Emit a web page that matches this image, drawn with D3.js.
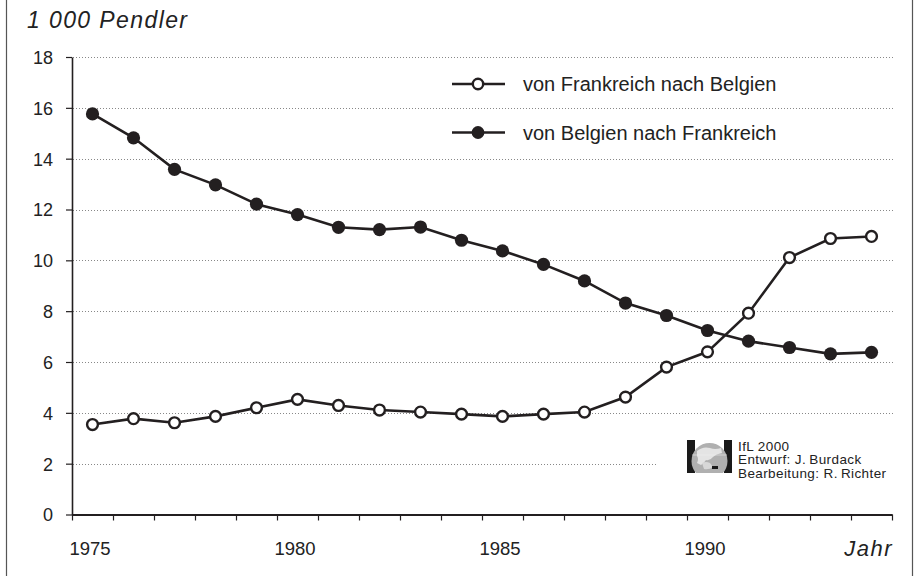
<!DOCTYPE html>
<html>
<head>
<meta charset="utf-8">
<script src="https://cdn.jsdelivr.net/npm/d3@7"></script>
<style>
  html, body { margin: 0; padding: 0; background: #fff; }
  svg { display: block; font-family: "Liberation Sans", Arial, Helvetica, sans-serif; }
</style>
</head>
<body>
<svg id="chart" width="917" height="576"></svg>
<script>
// ---- data ----
const years = [1975,1976,1977,1978,1979,1980,1981,1982,1983,1984,1985,1986,1987,1988,1989,1990,1991,1992,1993,1994];
const frToBe = [3.54,3.77,3.61,3.86,4.20,4.53,4.29,4.11,4.03,3.95,3.86,3.95,4.03,4.62,5.80,6.40,7.92,10.11,10.86,10.94];
const beToFr = [15.76,14.82,13.58,12.97,12.21,11.80,11.30,11.21,11.31,10.79,10.37,9.84,9.19,8.32,7.83,7.24,6.82,6.57,6.32,6.38];
const yTicks = [0,2,4,6,8,10,12,14,16,18];
const xLabels = [1975,1980,1985,1990];
const seriesNames = ["von Frankreich nach Belgien","von Belgien nach Frankreich"];
const yTitle = "1 000 Pendler";
const xTitle = "Jahr";
const credits = ["IfL 2000","Entwurf: J.\u2009Burdack","Bearbeitung: R.\u2009Richter"];

const ink = "#231f20";
const svg = d3.select("#chart");

const x = d3.scaleLinear().domain([years[0]-0.5, years[years.length-1]+0.5]).range([72, 892]);
const y = d3.scaleLinear().domain([0, 18]).range([514.5, 57]);

// frame (left/right rules)
svg.append("line").attr("x1",6.5).attr("x2",6.5).attr("y1",0).attr("y2",576).attr("stroke","#555").attr("stroke-width",1.2);
svg.append("line").attr("x1",912.5).attr("x2",912.5).attr("y1",0).attr("y2",576).attr("stroke","#555").attr("stroke-width",1.2);

// gridlines
svg.append("g").selectAll("line").data(yTicks.filter(d => d > 0)).join("line")
  .attr("x1", 73).attr("x2", d => d === 2 ? 657 : 893)
  .attr("y1", d => Math.round(y(d)) + 0.5).attr("y2", d => Math.round(y(d)) + 0.5)
  .attr("stroke", "#888").attr("stroke-width", 1).attr("stroke-dasharray", "1,2");

// y axis
const yAxis = svg.append("g").attr("transform","translate(72,0)")
  .call(d3.axisLeft(y).tickValues(yTicks).tickSize(6).tickSizeOuter(0).tickFormat(d3.format("d")));
yAxis.select(".domain").attr("stroke", ink).attr("stroke-width", 1.6);
yAxis.selectAll(".tick line").attr("stroke", ink).attr("stroke-width", 1.2);
yAxis.selectAll(".tick text").attr("font-size", 18).attr("fill", "#222")
  .attr("font-family","Liberation Sans, Arial, sans-serif").attr("x", -19).attr("dy","0.36em");

// x axis (ticks at year boundaries)
const bounds = years.map(d => d - 0.5).concat([years[years.length-1] + 0.5]);
const xAxis = svg.append("g").attr("transform", `translate(0,${y(0)})`)
  .call(d3.axisBottom(x).tickValues(bounds).tickSize(6).tickSizeOuter(0).tickFormat(""));
xAxis.select(".domain").attr("stroke", ink).attr("stroke-width", 2.2);
xAxis.selectAll(".tick line").attr("stroke", ink).attr("stroke-width", 1.2);

svg.append("g").selectAll("text").data(xLabels).join("text")
  .attr("x", d => x(d) - 2.5).attr("y", 555).attr("text-anchor","middle")
  .attr("font-size", 18.5).attr("fill", "#222").text(d => d);

svg.append("text").attr("x", 893).attr("y", 556).attr("text-anchor","end")
  .attr("font-size", 22).attr("font-style","italic").attr("letter-spacing", 1.5).attr("fill","#222").text(xTitle);

svg.append("text").attr("x", 27).attr("y", 28)
  .attr("font-size", 23).attr("font-style","italic").attr("letter-spacing", 1.4).attr("fill","#222").text(yTitle);

// lines
const line = d3.line().x((d,i) => x(years[i])).y(d => y(d));
svg.append("path").datum(beToFr).attr("d", line).attr("fill","none").attr("stroke", ink).attr("stroke-width", 2.6);
svg.append("path").datum(frToBe).attr("d", line).attr("fill","none").attr("stroke", ink).attr("stroke-width", 2.6);

svg.append("g").selectAll("circle").data(beToFr).join("circle")
  .attr("cx", (d,i) => x(years[i])).attr("cy", d => y(d)).attr("r", 6.6).attr("fill", ink);
svg.append("g").selectAll("circle").data(frToBe).join("circle")
  .attr("cx", (d,i) => x(years[i])).attr("cy", d => y(d)).attr("r", 5.4)
  .attr("fill", "#fff").attr("stroke", ink).attr("stroke-width", 2.4);

// legend
const legY = [84, 132.5];
const leg = svg.append("g");
seriesNames.forEach((name, i) => {
  leg.append("line").attr("x1", 452).attr("x2", 505).attr("y1", legY[i]).attr("y2", legY[i])
    .attr("stroke", ink).attr("stroke-width", 2.6);
  if (i === 0) {
    leg.append("circle").attr("cx", 478).attr("cy", legY[i]).attr("r", 5.2)
      .attr("fill","#fff").attr("stroke", ink).attr("stroke-width", 2.4);
  } else {
    leg.append("circle").attr("cx", 478).attr("cy", legY[i]).attr("r", 6.4).attr("fill", ink);
  }
  leg.append("text").attr("x", 523).attr("y", legY[i]).attr("dy", "0.36em")
    .attr("font-size", 20).attr("fill", "#222").text(name);
});

// logo
const logo = svg.append("g");
const defs = svg.append("defs");
defs.append("clipPath").attr("id","globeclip").append("rect").attr("x",690).attr("y",438).attr("width",39).attr("height",35);
logo.append("rect").attr("x",687).attr("y",440).attr("width",8).attr("height",33).attr("fill","#1a1a1a");
logo.append("rect").attr("x",724).attr("y",440).attr("width",8).attr("height",33).attr("fill","#1a1a1a");
const globe = logo.append("g").attr("clip-path","url(#globeclip)");
globe.append("circle").attr("cx",709.5).attr("cy",461).attr("r",18).attr("fill","#b0b0b0");
globe.append("path").attr("d","M697,451 q6,-5 13,-3 q5,2 11,0 l1,5 q-6,1 -9,4 q-3,4 -7,3 q-2,3 -5,5 l-4,-2 q2,-4 0,-7 z").attr("fill","#e4e4e4");
globe.append("path").attr("d","M702,463 q4,-2 8,0 l3,4 q-4,3 -9,2 z").attr("fill","#d8d8d8");
globe.append("line").attr("x1",692).attr("x2",727).attr("y1",455).attr("y2",455).attr("stroke","#eee").attr("stroke-width",0.6);
globe.append("rect").attr("x",712).attr("y",466).attr("width",6).attr("height",3).attr("fill","#1a1a1a");

logo.selectAll("text").data(credits).join("text")
  .attr("x", 738).attr("y", (d,i) => 450.5 + i*13.6)
  .attr("font-size", 13.5).attr("letter-spacing", 0.4).attr("fill", "#222").text(d => d);
</script>
</body>
</html>
